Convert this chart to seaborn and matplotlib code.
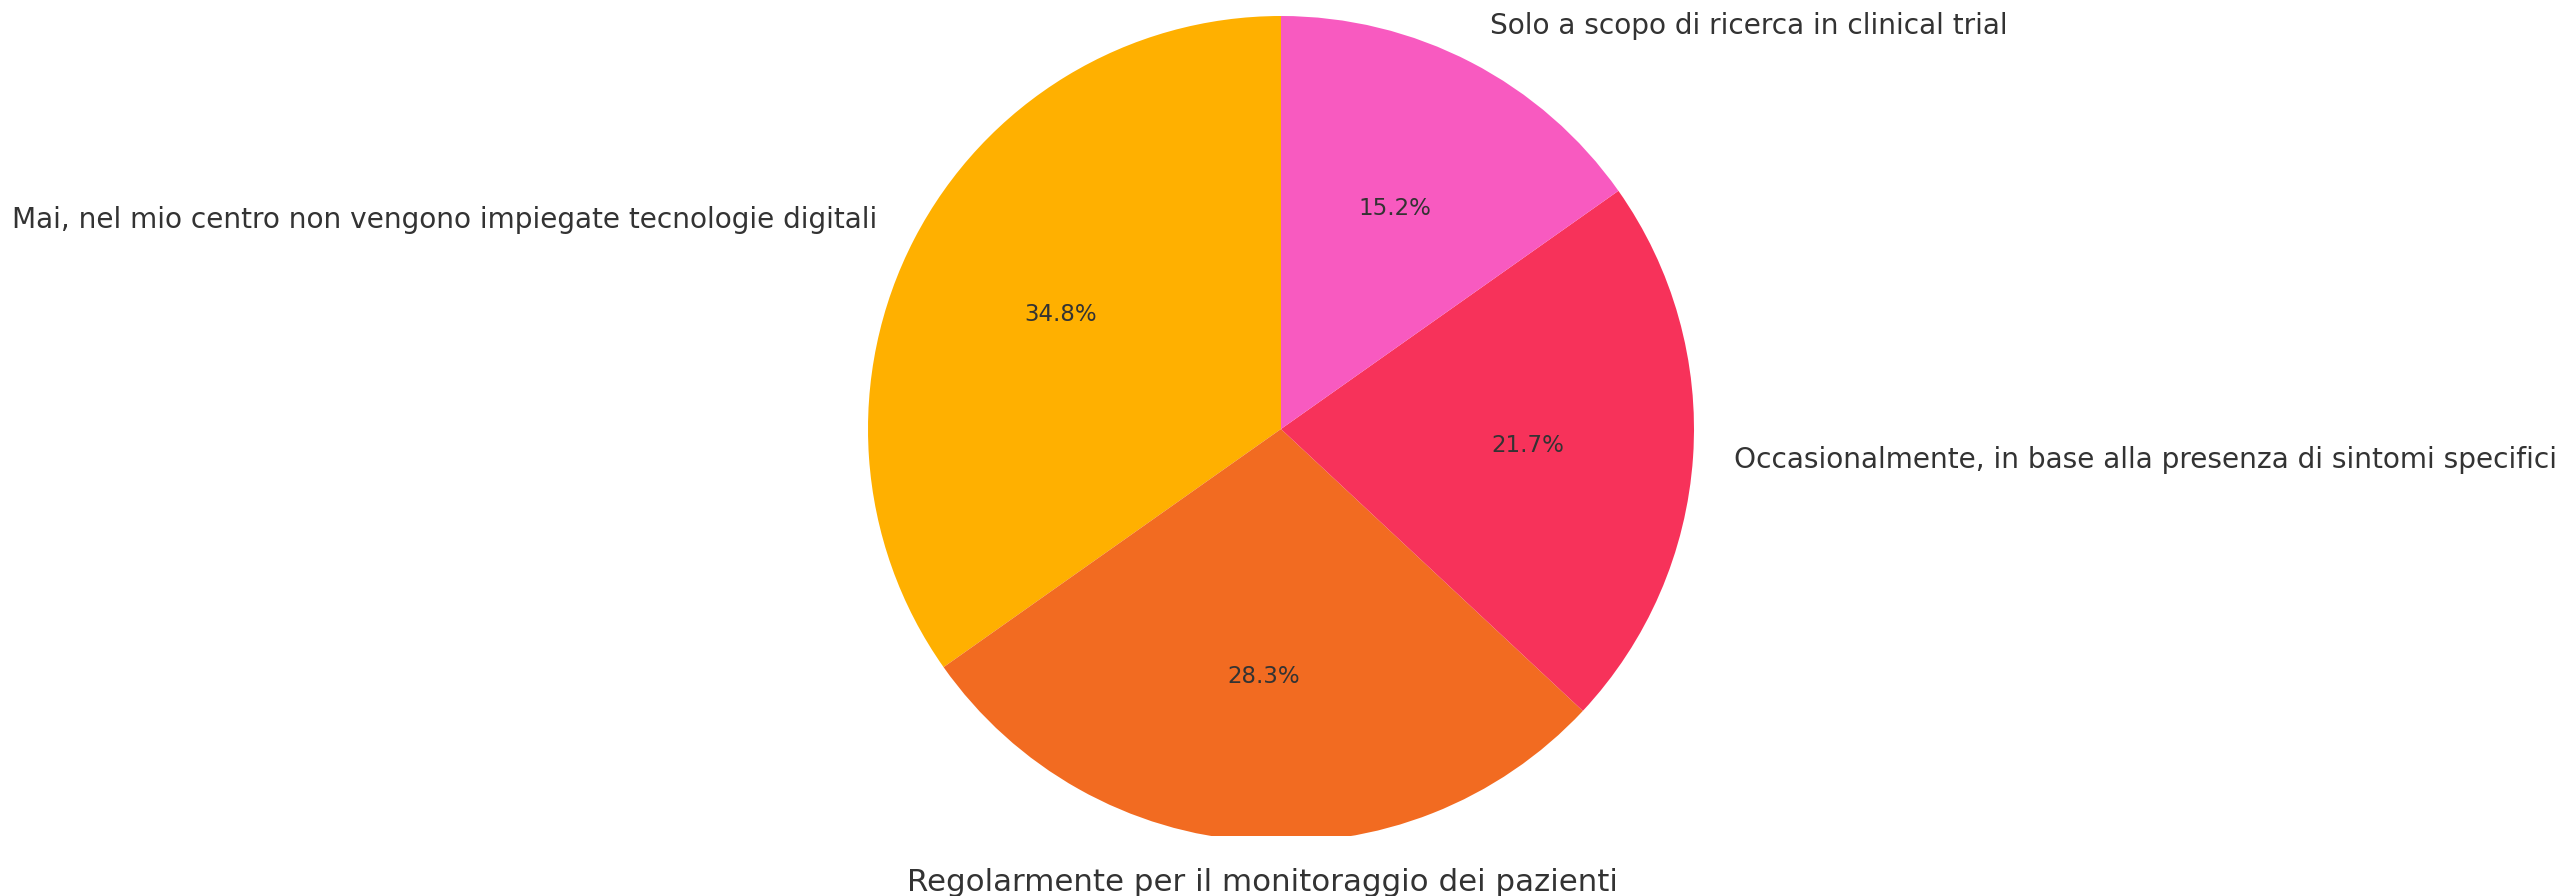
import matplotlib
matplotlib.use("Agg")
import matplotlib.pyplot as plt
import seaborn as sns

# Survey answers (counts) - order as drawn, counterclockwise from 12 o'clock
risposte = [
    "Mai, nel mio centro non vengono impiegate tecnologie digitali",
    "Regolarmente per il monitoraggio dei pazienti",
    "Occasionalmente, in base alla presenza di sintomi specifici",
    "Solo a scopo di ricerca in clinical trial",
]
conteggi = [16, 13, 10, 7]
colori = ["#FFB000", "#F26B21", "#F7325A", "#F85AC0"]

sns.set_theme(style="white")
plt.rcParams["font.family"] = ["DejaVu Sans"]

fig = plt.figure(figsize=(25.6, 8.96), dpi=100)
# axes covers the figure from 60px above the bottom edge; pie radius ~413px
ax = fig.add_axes([0, 60 / 896, 1, 836 / 896])

wedges, texts, autotexts = ax.pie(
    conteggi,
    labels=risposte,
    colors=colori,
    autopct="%1.1f%%",
    startangle=90,
    counterclock=True,
    labeldistance=1.1,
    pctdistance=0.6,
    wedgeprops={"linewidth": 0, "clip_on": True},
    textprops={"fontsize": 20.2, "color": "#333333"},
)
for t in autotexts:
    t.set_fontsize(16.5)
texts[1].set_fontsize(22.2)
texts[1].set_ha("center")
bx, by = texts[1].get_position()
texts[1].set_position((bx + 0.03, by))

r_px = 413
cx, cy = 1281, 467
ax.set_xlim((0 - cx) / r_px, (2560 - cx) / r_px)
ax.set_ylim((60 - cy) / r_px, (896 - cy) / r_px)
ax.set_aspect("auto")
ax.axis("off")

plt.savefig("out.png", dpi=100)
